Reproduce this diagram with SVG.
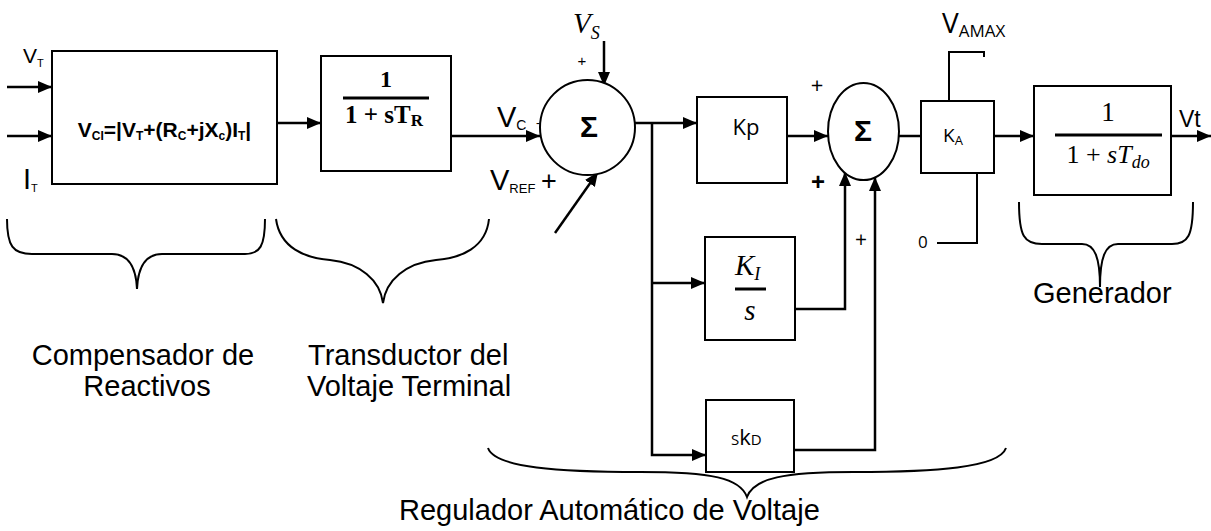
<svg xmlns="http://www.w3.org/2000/svg" width="1211" height="531" viewBox="0 0 1211 531">
<style>
.box{fill:#fff;stroke:#000;stroke-width:2}
.ln{fill:none;stroke:#000;stroke-width:2.5}
.br{fill:none;stroke:#000;stroke-width:2}
.fl{stroke:#000;stroke-width:3}
.sans{font-family:"Liberation Sans",Arial,sans-serif}
.cal{font-family:"Open Sans","Liberation Sans",sans-serif}
.ser{font-family:"Liberation Serif","DejaVu Serif",serif}
text{fill:#000}
</style>
<defs>
<marker id="ah" markerUnits="userSpaceOnUse" markerWidth="15" markerHeight="12" refX="14" refY="6" orient="auto">
<path d="M0,0 L14,6 L0,12 z" fill="#000"/>
</marker>
</defs>
<rect width="1211" height="531" fill="#fff"/>

<g id="connectors">
<line class="ln" x1="7" y1="87" x2="52" y2="87" marker-end="url(#ah)"/>
<line class="ln" x1="7" y1="136" x2="52" y2="136" marker-end="url(#ah)"/>
<line class="ln" x1="277" y1="123" x2="321" y2="123" marker-end="url(#ah)"/>
<line class="ln" x1="451" y1="136" x2="540" y2="136" marker-end="url(#ah)"/>
<line class="ln" x1="604" y1="41" x2="604" y2="86" marker-end="url(#ah)"/>
<line class="ln" x1="555" y1="233" x2="598" y2="172" marker-end="url(#ah)"/>
<line class="ln" x1="635" y1="123" x2="697" y2="123" marker-end="url(#ah)"/>
<polyline class="ln" points="652,123 652,455 706,455" marker-end="url(#ah)"/>
<line class="ln" x1="652" y1="283" x2="705" y2="283" marker-end="url(#ah)"/>
<line class="ln" x1="787" y1="136" x2="828" y2="136" marker-end="url(#ah)"/>
<polyline class="ln" points="795,309 845,309 845,172" marker-end="url(#ah)"/>
<polyline class="ln" points="794,450 875,450 875,177" marker-end="url(#ah)"/>
<line class="ln" x1="899" y1="136" x2="921" y2="136"/>
<line class="ln" x1="994" y1="136" x2="1034" y2="136" marker-end="url(#ah)"/>
<line class="ln" x1="1171" y1="136" x2="1211" y2="136" marker-end="url(#ah)"/>
<polyline class="br" points="949,110 949,52 984,52 984,57"/>
<polyline class="br" points="977,167 977,243 937,243"/>
</g>

<g id="compensador">
<rect class="box" x="52" y="51" width="225" height="133"/>
<text class="sans" x="164.5" y="137" font-size="21" font-weight="bold" text-anchor="middle">V<tspan font-size="12" dy="3">CI</tspan><tspan dy="-3">=|V</tspan><tspan font-size="12" dy="3">T</tspan><tspan dy="-3">+(R</tspan><tspan font-size="12" dy="3">C</tspan><tspan dy="-3">+jX</tspan><tspan font-size="12" dy="3">c</tspan><tspan dy="-3">)I</tspan><tspan font-size="12" dy="3">T</tspan><tspan dy="-3">|</tspan></text>
<text class="sans" x="23" y="63" font-size="21">V<tspan font-size="11" dy="4">T</tspan></text>
<text class="sans" x="23" y="189" font-size="29">I<tspan font-size="11" dy="3">T</tspan></text>
</g>

<g id="transductor">
<rect class="box" x="321" y="56" width="130" height="115"/>
<text class="ser" x="386" y="87" font-size="24" font-weight="bold" text-anchor="middle">1</text>
<line class="fl" x1="343" y1="98" x2="429" y2="98"/>
<text class="ser" x="384" y="123" font-size="25" font-weight="bold" text-anchor="middle">1 + sT<tspan font-size="17" dy="3">R</tspan></text>
</g>

<g id="sum1">
<circle class="box" cx="587.5" cy="127.5" r="47.5"/>
<text class="sans" x="589" y="137" font-size="30" font-weight="bold" text-anchor="middle">Σ</text>
<text class="sans" x="497" y="127" font-size="29">V<tspan font-size="14" dy="3">C</tspan></text>
<text class="sans" x="536" y="127" font-size="12">-</text>
<text class="ser" x="573" y="33" font-size="29" font-style="italic">V<tspan font-size="18" dy="6">S</tspan></text>
<text class="sans" x="582" y="66" font-size="15" text-anchor="middle">+</text>
<text class="sans" x="490" y="190" font-size="29">V<tspan font-size="13" dy="3">REF</tspan></text>
<text class="sans" x="541" y="190" font-size="27">+</text>
</g>

<g id="kp">
<rect class="box" x="697" y="97" width="90" height="86"/>
<text class="cal" x="746" y="135" font-size="22" text-anchor="middle">Kp</text>
</g>

<g id="ki">
<rect class="box" x="705" y="237" width="90" height="103"/>
<text class="ser" x="735" y="275" font-size="29" font-style="italic">K<tspan font-size="18" dy="5">I</tspan></text>
<line class="fl" x1="735" y1="289" x2="766" y2="289"/>
<text class="ser" x="750" y="320" font-size="29" font-style="italic" text-anchor="middle">s</text>
</g>

<g id="kd">
<rect class="box" x="706" y="400" width="88" height="72"/>
<text class="cal" x="731" y="445"><tspan font-size="15">S</tspan><tspan font-size="22">k</tspan><tspan font-size="15">D</tspan></text>
</g>

<g id="sum2">
<ellipse class="box" cx="863.5" cy="131.5" rx="35.5" ry="48.5"/>
<text class="sans" x="863" y="141" font-size="30" font-weight="bold" text-anchor="middle">Σ</text>
<text class="cal" x="817" y="93" font-size="22" text-anchor="middle">+</text>
<text class="sans" x="818" y="190" font-size="24" font-weight="bold" text-anchor="middle">+</text>
<text class="cal" x="861" y="247" font-size="21" text-anchor="middle">+</text>
</g>

<g id="ka">
<rect class="box" x="921" y="101" width="73" height="72"/>
<text class="cal" x="943" y="142" font-size="19">K<tspan font-size="13" dy="3">A</tspan></text>
<text class="cal" x="942" y="33" font-size="28">V<tspan font-size="17" dy="4">AMAX</tspan></text>
<text class="cal" x="918" y="248" font-size="17">0</text>
</g>

<g id="generador">
<rect class="box" x="1034" y="86" width="137" height="109"/>
<text class="ser" x="1108" y="121" font-size="27" text-anchor="middle">1</text>
<line class="fl" x1="1055" y1="135" x2="1162" y2="135" stroke-width="2.5"/>
<text class="ser" x="1108" y="163" font-size="26" text-anchor="middle">1 + <tspan font-style="italic">sT</tspan><tspan font-style="italic" font-size="18" dy="5">do</tspan></text>
<text class="sans" x="1179" y="127" font-size="23">Vt</text>
</g>

<g id="braces">
<path class="br" d="M7,219 C7,246 13,254 32,254 L112,254 C128,254 136,266 137,289 C138,266 146,254 162,254 L245,254 C260,254 265,246 265,219"/>
<path class="br" d="M276,219 C280,248 305,258 330,260 C360,263 380,280 383,303 C386,280 406,263 436,260 C461,258 486,248 489,219"/>
<path class="br" d="M1019,202 C1019,236 1024,244 1042,244 L1082,244 C1095,244 1100,258 1100,287 C1100,258 1105,244 1118,244 L1172,244 C1188,244 1193,236 1193,202"/>
<path class="br" d="M488,448 C495,468 560,472 640,472 C712,472 740,478 747,497 C754,478 784,472 854,472 C934,472 999,468 1006,448"/>
</g>

<g id="labels">
<text class="sans" x="143" y="365" font-size="29" text-anchor="middle">Compensador de</text>
<text class="sans" x="147" y="396" font-size="29" text-anchor="middle">Reactivos</text>
<text class="sans" x="308" y="365" font-size="29">Transductor del</text>
<text class="sans" x="307" y="396" font-size="29">Voltaje Terminal</text>
<text class="sans" x="1033" y="303" font-size="29">Generador</text>
<text class="sans" x="399" y="520" font-size="29">Regulador Automático de Voltaje</text>
</g>
</svg>
